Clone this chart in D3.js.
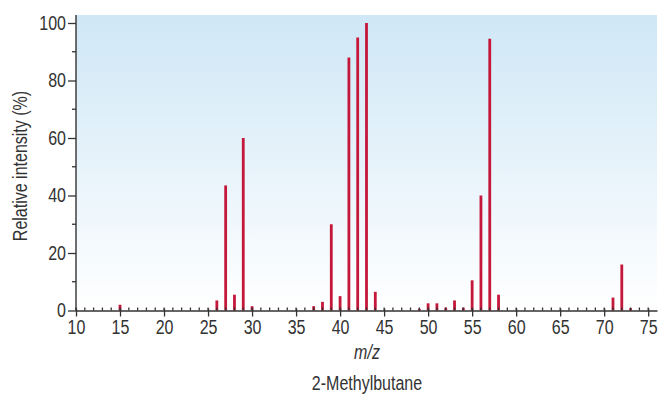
<!DOCTYPE html>
<html>
<head>
<meta charset="utf-8">
<script src="https://cdn.jsdelivr.net/npm/d3@7"></script>
<style>
  body { margin: 0; background: #fff; }
  text { font-family: "Liberation Sans", Arial, sans-serif; fill: #333; }
</style>
</head>
<body>
<div id="chart"></div>
<script>
// m/z values and relative intensities
var mz =        [15, 26, 27,   28,  29, 30,  37,  38, 39, 40, 41, 42, 43,  44,  49,  50,  51,  52,  53,  54,  55,   56, 57,   58,  71,  72, 73];
var intensity = [2,  3.5, 43.5, 5.5, 60, 1.5, 1.5, 3,  30, 5,  88, 95, 100, 6.5, 0.6, 2.5, 2.5, 1,   3.5, 1,   10.5, 40, 94.5, 5.5, 4.5, 16, 0.8];

var xTicks = [10, 15, 20, 25, 30, 35, 40, 45, 50, 55, 60, 65, 70, 75];
var yTicks = [0, 20, 40, 60, 80, 100];

// fake a condensed face by squeezing the glyphs horizontally
var squeeze = 0.8;

function main() {
    const width = 660;
    const height = 394;

    var x = d3.scaleLinear().domain([10, 76]).range([76, 657]);
    var y = d3.scaleLinear().domain([0, 100]).range([310.5, 23]);

    var svg = d3.select("#chart").append("svg")
        .attr("width", width)
        .attr("height", height)

    var grad = svg.append("defs").append("linearGradient")
        .attr("id", "bg")
        .attr("x1", 0).attr("y1", 0)
        .attr("x2", 0).attr("y2", 1)
    grad.append("stop").attr("offset", "0%").attr("stop-color", "#cfe7f6")
    grad.append("stop").attr("offset", "55%").attr("stop-color", "#e9f4fb")
    grad.append("stop").attr("offset", "100%").attr("stop-color", "#ffffff")

    svg.append("rect")
        .attr("x", x(10))
        .attr("y", 15)
        .attr("width", x(76) - x(10))
        .attr("height", y(0) - 15)
        .style("fill", "url(#bg)")

    // peaks
    svg.selectAll("line.peak")
        .data(mz)
        .enter()
        .append("line")
        .attr("class", "peak")
        .attr("x1", function (d) { return x(d); })
        .attr("x2", function (d) { return x(d); })
        .attr("y1", y(0))
        .attr("y2", function (d, i) { return y(intensity[i]); })
        .style("stroke", "#c4173a")
        .style("stroke-width", 2.8)

    // x axis: major ticks below, minor ticks above
    var minorX = d3.range(10, 76);
    svg.selectAll("line.xminor")
        .data(minorX)
        .enter()
        .append("line")
        .attr("x1", function (d) { return x(d); })
        .attr("x2", function (d) { return x(d); })
        .attr("y1", y(0))
        .attr("y2", y(0) - 3)
        .style("stroke", "#333")
        .style("stroke-width", 1.3)

    svg.append("g")
        .attr("transform", "translate(0," + y(0) + ")")
        .call(d3.axisBottom(x).tickValues(xTicks).tickSize(6).tickPadding(3).tickSizeOuter(0))
        .call(function (g) {
            g.select(".domain").style("stroke", "#333").style("stroke-width", 1.4)
            g.selectAll(".tick line").style("stroke", "#333").style("stroke-width", 1.3).attr("y1", -2)
            g.selectAll(".tick text")
                .style("font-size", "20px")
                .style("fill", "#333")
                .attr("transform", "scale(" + squeeze + ",1)")
        })

    // y axis
    var minorY = [10, 30, 50, 70, 90];
    svg.selectAll("line.yminor")
        .data(minorY)
        .enter()
        .append("line")
        .attr("x1", x(10) - 4)
        .attr("x2", x(10))
        .attr("y1", function (d) { return y(d); })
        .attr("y2", function (d) { return y(d); })
        .style("stroke", "#333")
        .style("stroke-width", 1.3)

    var yAxis = svg.append("g")
        .attr("transform", "translate(" + x(10) + ",0)")
        .call(d3.axisLeft(y).tickValues(yTicks).tickSize(8).tickPadding(2).tickSizeOuter(0))
    yAxis.select(".domain").remove()
    yAxis.selectAll(".tick line").style("stroke", "#333").style("stroke-width", 1.3)
    yAxis.selectAll(".tick text")
        .style("font-size", "20px")
        .style("fill", "#333")
        .attr("x", -10 / squeeze)
        .attr("transform", "scale(" + squeeze + ",1)")

    svg.append("line")
        .attr("x1", x(10)).attr("x2", x(10))
        .attr("y1", 15).attr("y2", y(0))
        .style("stroke", "#333")
        .style("stroke-width", 1.4)

    // labels
    svg.append("text")
        .attr("transform", "translate(27,166) rotate(-90) scale(" + squeeze + ",1)")
        .attr("text-anchor", "middle")
        .style("font-size", "20px")
        .text("Relative intensity (%)")

    svg.append("text")
        .attr("transform", "translate(367,359) scale(" + squeeze + ",1)")
        .attr("text-anchor", "middle")
        .style("font-size", "20px")
        .style("font-style", "italic")
        .text("m/z")

    svg.append("text")
        .attr("transform", "translate(367,390) scale(" + squeeze + ",1)")
        .attr("text-anchor", "middle")
        .style("font-size", "20px")
        .text("2-Methylbutane")
}
main();
</script>
</body>
</html>
